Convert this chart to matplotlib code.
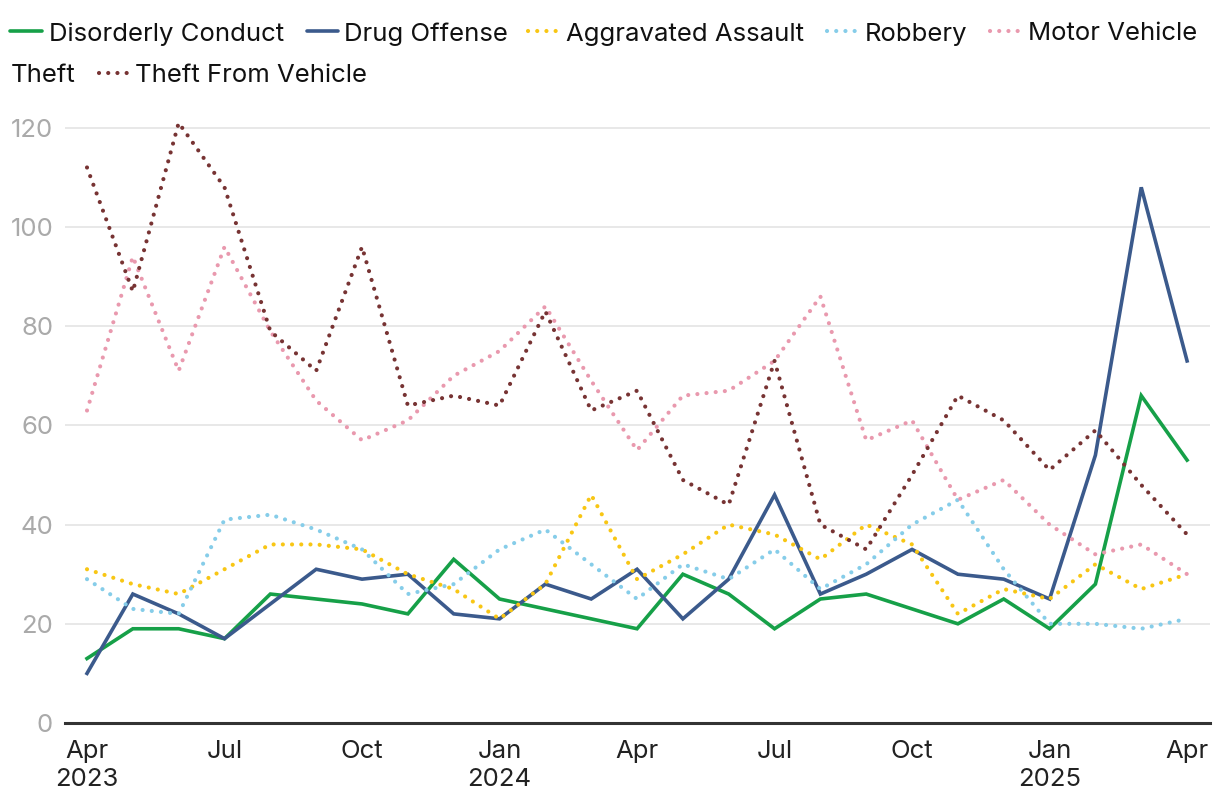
import matplotlib
matplotlib.use("Agg")
import matplotlib.pyplot as plt
from matplotlib.lines import Line2D

plt.rcParams['font.family'] = ['Inter', 'DejaVu Sans']

months = ["Apr 2023", "May 2023", "Jun 2023", "Jul 2023", "Aug 2023", "Sep 2023",
          "Oct 2023", "Nov 2023", "Dec 2023", "Jan 2024", "Feb 2024", "Mar 2024",
          "Apr 2024", "May 2024", "Jun 2024", "Jul 2024", "Aug 2024", "Sep 2024",
          "Oct 2024", "Nov 2024", "Dec 2024", "Jan 2025", "Feb 2025", "Mar 2025",
          "Apr 2025"]

disorderly = [13, 19, 19, 17, 26, 25, 24, 22, 33, 25, 23, 21, 19, 30, 26, 19, 25, 26, 23, 20, 25, 19, 28, 66, 53]
drug = [10, 26, 22, 17, 24, 31, 29, 30, 22, 21, 28, 25, 31, 21, 29, 46, 26, 30, 35, 30, 29, 25, 54, 108, 73]
aggravated = [31, 28, 26, 31, 36, 36, 35, 30, 27, 21, 28, 46, 29, 34, 40, 38, 33, 40, 36, 22, 27, 25, 32, 27, 30]
robbery = [29, 23, 22, 41, 42, 39, 35, 26, 28, 35, 39, 32, 25, 32, 29, 35, 27, 32, 40, 45, 31, 20, 20, 19, 21]
motor = [63, 94, 71, 96, 79, 65, 57, 61, 70, 75, 84, 69, 55, 66, 67, 73, 86, 57, 61, 45, 49, 40, 34, 36, 30]
theft_vehicle = [112, 87, 121, 108, 79, 71, 96, 64, 66, 64, 83, 63, 67, 49, 44, 73, 40, 35, 50, 66, 61, 51, 59, 48, 38]

tick_pos = [0, 3, 6, 9, 12, 15, 18, 21, 24]
tick_labels = ["Apr\n2023", "Jul", "Oct", "Jan\n2024", "Apr", "Jul", "Oct", "Jan\n2025", "Apr"]
y_ticks = [0, 20, 40, 60, 80, 100, 120]

series = [
    ("Disorderly Conduct", disorderly, "#16a048", "solid"),
    ("Drug Offense", drug, "#3b5a8c", "solid"),
    ("Aggravated Assault", aggravated, "#f8c614", "dot"),
    ("Robbery", robbery, "#86cde9", "dot"),
    ("Motor Vehicle Theft", motor, "#e999ae", "dot"),
    ("Theft From Vehicle", theft_vehicle, "#773333", "dot"),
]

FS = 18.5
SOLID_LW = 2.6
DOT_LW = 3.0
DOT_STYLE = (0, (0.01, 2.2))

W, H = 1220, 810
fig = plt.figure(figsize=(W / 100, H / 100), dpi=100)
ax = fig.add_axes([65 / W, 1 - 723 / H, (1210 - 65) / W, (723 - 103) / H])

x = list(range(len(months)))
for name, vals, color, style in series:
    if style == "solid":
        ax.plot(x, vals, color=color, lw=SOLID_LW, solid_joinstyle='miter', zorder=3)
    else:
        ax.plot(x, vals, color=color, lw=DOT_LW, linestyle=DOT_STYLE,
                dash_capstyle='round', zorder=3)

ax.set_xlim(-0.48, 24.5)
ax.set_ylim(0, 125)
ax.set_yticks(y_ticks)
ax.set_yticklabels([str(v) for v in y_ticks])
ax.set_xticks(tick_pos)
ax.set_xticklabels(tick_labels, linespacing=1.25)
ax.grid(axis='y', color='#e6e6e6', lw=1.3, zorder=0)
ax.grid(axis='x', visible=False)
for s in ['top', 'right', 'left']:
    ax.spines[s].set_visible(False)
ax.spines['bottom'].set_color('#333333')
ax.spines['bottom'].set_linewidth(2.2)
ax.tick_params(axis='y', length=0, pad=8.5, labelsize=FS, labelcolor='#aaaaaa')
ax.tick_params(axis='x', length=0, pad=12.5, labelsize=FS, labelcolor='#222222')

def fx(px):
    return px / W

def fy(py):
    return 1 - py / H

legend_items = [
    ("Disorderly Conduct", "#16a048", "solid", 10, 42, 49, 31),
    ("Drug Offense", "#3b5a8c", "solid", 307, 338, 344, 31),
    ("Aggravated Assault", "#f8c614", "dot", 526, 558, 566, 31),
    ("Robbery", "#86cde9", "dot", 825, 857, 865, 31),
    ("Motor Vehicle", "#e999ae", "dot", 988, 1020, 1028, 31),
    ("Theft From Vehicle", "#773333", "dot", 97, 128, 135, 73),
]
for label, color, style, x0, x1, tx, yc in legend_items:
    if style == "solid":
        ln = Line2D([fx(x0), fx(x1)], [fy(yc), fy(yc)], transform=fig.transFigure,
                    color=color, lw=SOLID_LW, solid_capstyle='round')
    else:
        ln = Line2D([fx(x0 + 2), fx(x1)], [fy(yc), fy(yc)], transform=fig.transFigure,
                    color=color, lw=DOT_LW, linestyle=DOT_STYLE, dash_capstyle='round')
    fig.add_artist(ln)
    fig.text(fx(tx), fy(yc + 9.5), label, fontsize=FS, color='#111111',
             ha='left', va='baseline')
fig.text(fx(11), fy(73 + 9.5), "Theft", fontsize=FS, color='#111111',
         ha='left', va='baseline')

fig.savefig("out.png", dpi=100, facecolor='white')
